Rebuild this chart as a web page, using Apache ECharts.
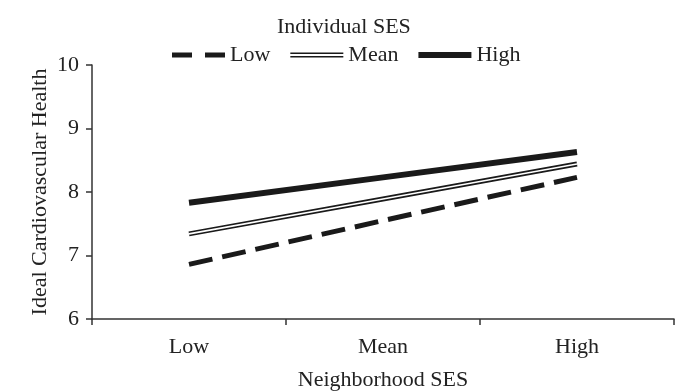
<!DOCTYPE html>
<html>
<head>
<meta charset="utf-8">
<script src="https://cdn.jsdelivr.net/npm/echarts@6/dist/echarts.min.js"></script>
<style>html,body{margin:0;padding:0;background:#fff}#c{width:675px;height:391px}</style>
</head>
<body>
<div id="c"></div>
<script>
var categories = ['Low', 'Mean', 'High'];
var lowValues = [6.86, 7.55, 8.23];
var meanValues = [7.34, 7.89, 8.44];
var highValues = [7.83, 8.23, 8.63];
var legendNames = ['Low', 'Mean', 'High'];
var yTicks = [6, 7, 8, 9, 10];

var FONT = 'Liberation Serif';
var INK = '#1a1a1a';
var chart = echarts.init(document.getElementById('c'), null, {renderer: 'canvas'});
chart.setOption({
  animation: false,
  backgroundColor: '#fff',
  title: {
    text: 'Individual SES', left: 277, top: 15, padding: 0,
    textStyle: {fontFamily: FONT, fontSize: 22, fontWeight: 'normal', color: '#222', lineHeight: 24}
  },
  legend: {
    data: [
      {name: legendNames[0], icon: 'path://M0,0H20V5H0Z M33,0H53V5H33Z'},
      {name: legendNames[1], icon: 'path://M0,0H53V1.6H0Z M0,3.4H53V5H0Z'},
      {name: legendNames[2], icon: 'path://M0,0H53V6H0Z'}
    ],
    left: 172, top: 43, padding: 0,
    itemWidth: 53, itemHeight: 6, itemGap: 20,
    textStyle: {fontFamily: FONT, fontSize: 22, color: '#222', lineHeight: 24}
  },
  grid: {left: 92, right: 1, top: 65, bottom: 72, containLabel: false, outerBoundsMode: 'none'},
  xAxis: {
    type: 'category', data: categories, boundaryGap: true,
    name: 'Neighborhood SES', nameLocation: 'middle', nameGap: 50, nameMoveOverlap: false,
    nameTextStyle: {fontFamily: FONT, fontSize: 22, color: '#222'},
    axisLine: {lineStyle: {color: '#333', width: 1.5}},
    axisTick: {show: true, length: 6, alignWithLabel: false, lineStyle: {color: '#333', width: 1.5}},
    axisLabel: {fontFamily: FONT, fontSize: 22, color: '#222', margin: 17},
    splitLine: {show: false}
  },
  yAxis: {
    type: 'value', min: yTicks[0], max: yTicks[yTicks.length - 1], interval: 1,
    name: 'Ideal Cardiovascular Health', nameLocation: 'middle', nameGap: 41, nameMoveOverlap: false,
    nameTextStyle: {fontFamily: FONT, fontSize: 22, color: '#222'},
    axisLine: {show: true, lineStyle: {color: '#333', width: 1.5}},
    axisTick: {show: true, length: 6, lineStyle: {color: '#333', width: 1.5}},
    axisLabel: {fontFamily: FONT, fontSize: 22, color: '#222', margin: 13},
    splitLine: {show: false}
  },
  series: [
    {
      name: legendNames[0], type: 'line', data: lowValues, symbol: 'none',
      itemStyle: {color: INK},
      lineStyle: {color: INK, width: 5, type: [24, 10], cap: 'butt'}
    },
    {
      name: legendNames[1], type: 'line', data: meanValues, symbol: 'none',
      itemStyle: {color: INK},
      lineStyle: {color: INK, width: 5, cap: 'butt'}
    },
    {
      name: 'MeanInner', type: 'line', data: meanValues, symbol: 'none',
      itemStyle: {color: '#fff'},
      lineStyle: {color: '#fff', width: 1.6, cap: 'butt'}
    },
    {
      name: legendNames[2], type: 'line', data: highValues, symbol: 'none',
      itemStyle: {color: INK},
      lineStyle: {color: INK, width: 6, cap: 'butt'}
    }
  ]
});
</script>
</body>
</html>
